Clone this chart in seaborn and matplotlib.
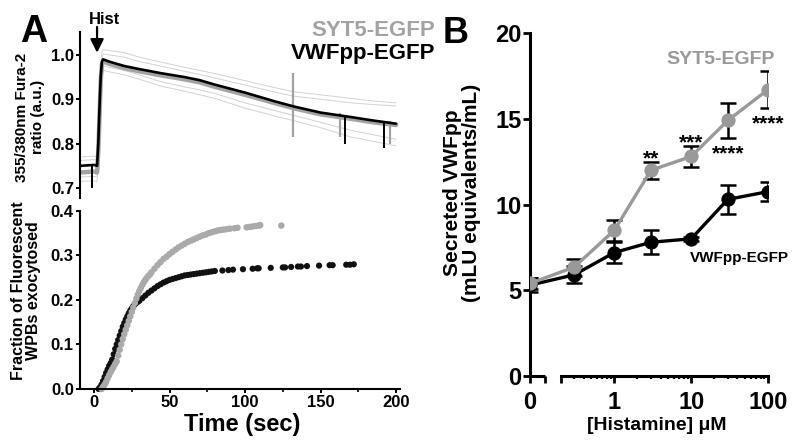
import numpy as np
import pandas as pd
import matplotlib
matplotlib.use("Agg")
import matplotlib.pyplot as plt
from matplotlib.ticker import FixedLocator, FixedFormatter, NullFormatter
import seaborn as sns

sns.set_theme(style="ticks")
plt.rcParams["font.family"] = ["Liberation Sans", "DejaVu Sans"]
plt.rcParams["font.weight"] = "bold"
plt.rcParams["axes.labelweight"] = "bold"
plt.rcParams["text.color"] = "black"
plt.rcParams["xtick.color"] = "black"
plt.rcParams["ytick.color"] = "black"
plt.rcParams["xtick.labelcolor"] = "black"
plt.rcParams["ytick.labelcolor"] = "black"

GREY_A = "#a3a3a3"
GREY_B = "#999999"
BAND = "#d2d2d2"

# ---------------- Panel A (top): Fura-2 ratio traces ----------------
trace_t = [-9, 0, 2.0, 2.8, 3.6, 4.4, 5.2, 6, 10, 20, 30, 44, 60, 70, 80, 100, 120, 132, 150, 170, 185, 200]
vwf_ratio = [0.750, 0.752, 0.750, 0.80, 0.88, 0.95, 0.985, 0.990, 0.985, 0.975, 0.968, 0.959, 0.950, 0.943,
             0.933, 0.915, 0.895, 0.884, 0.870, 0.860, 0.852, 0.845]
syt_ratio = [0.735, 0.737, 0.735, 0.78, 0.86, 0.94, 0.978, 0.985, 0.980, 0.970, 0.963, 0.954, 0.945, 0.938,
             0.928, 0.910, 0.891, 0.880, 0.866, 0.856, 0.848, 0.842]
sem_up1 = [0.770, 0.772, 0.770, 0.82, 0.90, 0.97, 1.005, 1.012, 1.010, 1.005, 0.995, 0.984, 0.972, 0.965,
           0.958, 0.942, 0.926, 0.917, 0.910, 0.902, 0.896, 0.892]
sem_up2 = [0.762, 0.764, 0.762, 0.81, 0.89, 0.96, 0.995, 1.002, 1.000, 0.995, 0.985, 0.975, 0.963, 0.956,
           0.948, 0.932, 0.916, 0.907, 0.900, 0.892, 0.888, 0.885]
sem_lo1 = [0.715, 0.716, 0.715, 0.76, 0.84, 0.91, 0.955, 0.965, 0.962, 0.955, 0.945, 0.930, 0.918, 0.910,
           0.902, 0.880, 0.862, 0.852, 0.836, 0.815, 0.805, 0.795]
sem_lo2 = [0.725, 0.726, 0.725, 0.77, 0.85, 0.92, 0.965, 0.975, 0.972, 0.965, 0.955, 0.940, 0.928, 0.921,
           0.913, 0.892, 0.874, 0.864, 0.848, 0.830, 0.820, 0.810]
vwf_spike_t = [-1.5, 166, 192]
vwf_spike_top = [0.750, 0.862, 0.848]
vwf_spike_bot = [0.700, 0.800, 0.790]
syt_spike_t = [132, 163, 196]
syt_spike_top = [0.960, 0.870, 0.850]
syt_spike_bot = [0.815, 0.815, 0.800]

# ---------------- Panel A (bottom): cumulative exocytosis ----------------
vwf_t = [3, 4, 5, 6, 7, 8, 9, 10, 11, 12, 13, 14, 15, 16, 17, 18, 19, 20, 21, 22, 23, 24, 25, 26, 27, 28, 29, 30,
         32, 34, 36, 38, 40, 42, 44, 46, 48, 50, 52, 54, 56, 58, 60, 62, 64, 66, 68, 70, 72, 74, 76, 78, 80,
         85, 89, 92, 98.6, 105, 108, 109, 117, 125, 126.5, 130.5, 135, 137, 141, 149, 156, 158, 167, 169.5, 172]
vwf_frac = [0.000, 0.004, 0.010, 0.018, 0.027, 0.036, 0.044, 0.052, 0.058, 0.066, 0.078, 0.090, 0.100, 0.110,
            0.120, 0.130, 0.140, 0.148, 0.156, 0.163, 0.170, 0.176, 0.181, 0.186, 0.190, 0.193, 0.196, 0.198,
            0.204, 0.210, 0.216, 0.221, 0.226, 0.231, 0.235, 0.239, 0.242, 0.245, 0.247, 0.249, 0.251, 0.253,
            0.255, 0.256, 0.257, 0.258, 0.259, 0.260, 0.261, 0.262, 0.263, 0.264, 0.265,
            0.266, 0.267, 0.268, 0.269, 0.270, 0.271, 0.271, 0.272, 0.273, 0.273, 0.274, 0.275, 0.275, 0.276,
            0.277, 0.278, 0.278, 0.279, 0.279, 0.280]
syt_t = [5, 6, 7, 8, 9, 10, 11, 12, 13, 14, 15, 16, 17, 18, 19, 20, 21, 22, 23, 24, 25, 26, 27, 28, 29, 30, 31,
         32, 33, 34, 35, 36, 37, 38, 40, 42, 44, 46, 48, 50, 52, 54, 56, 58, 60, 62, 64, 66, 68, 70, 72, 74, 76,
         78, 80, 82, 84, 86, 88, 90, 93, 95, 101, 103, 105, 107, 109, 110, 124]
syt_frac = [0.000, 0.005, 0.010, 0.016, 0.024, 0.031, 0.038, 0.044, 0.050, 0.056, 0.062, 0.075, 0.088, 0.100,
            0.112, 0.123, 0.133, 0.143, 0.153, 0.163, 0.173, 0.183, 0.193, 0.203, 0.212, 0.220, 0.227, 0.234,
            0.240, 0.245, 0.250, 0.254, 0.257, 0.262, 0.270, 0.278, 0.285, 0.292, 0.297, 0.303, 0.308, 0.313,
            0.318, 0.322, 0.326, 0.330, 0.333, 0.336, 0.339, 0.342, 0.345, 0.347, 0.350, 0.352, 0.354, 0.356,
            0.357, 0.358, 0.359, 0.360, 0.361, 0.362, 0.363, 0.364, 0.365, 0.366, 0.367, 0.368, 0.367]

# ---------------- Panel B: secreted VWFpp ----------------
histamine = [0, 0.3, 1, 3, 10, 30, 100]
syt_vwfpp = [5.4, 6.35, 8.5, 12.0, 12.8, 14.9, 16.7]
syt_vwfpp_sem = [0.3, 0.5, 0.6, 0.5, 0.6, 1.0, 1.1]
vwf_vwfpp = [5.3, 5.9, 7.2, 7.8, 8.0, 10.3, 10.75]
vwf_vwfpp_sem = [0.4, 0.5, 0.6, 0.7, 0.1, 0.85, 0.55]
star_x = [3, 10, 30, 100]
star_y = [12.36, 13.3, 12.65, 14.4]
star_txt = ["**", "***", "****", "****"]
x_major = [0, 0.1, 0.2, 1, 10, 100]
x_major_lbl = ["0", "", "", "1", "10", "100"]
x_minor = [0.3, 0.4, 0.5, 0.6, 0.7, 0.8, 0.9, 2, 3, 4, 5, 6, 7, 8, 9, 20, 30, 40, 50, 60, 70, 80, 90]

W, H = 800, 443
fig = plt.figure(figsize=(8.0, 4.43), dpi=100)


def fx(px):
    return px / W


def fy(py):
    return 1 - py / H


# ---- A top ----
axA1 = fig.add_axes([0.1, 0.553, 0.4, 0.375])
for arr in (sem_up1, sem_up2, sem_lo1, sem_lo2):
    sns.lineplot(x=trace_t, y=arr, ax=axA1, color=BAND, lw=0.7, estimator=None, sort=False)
sns.lineplot(x=trace_t, y=syt_ratio, ax=axA1, color=GREY_A, lw=3.2, estimator=None, sort=False)
axA1.vlines(syt_spike_t, syt_spike_bot, syt_spike_top, color=GREY_A, lw=1.6)
sns.lineplot(x=trace_t, y=vwf_ratio, ax=axA1, color="black", lw=1.9, estimator=None, sort=False)
axA1.vlines(vwf_spike_t, vwf_spike_bot, vwf_spike_top, color="black", lw=1.4)
axA1.set_xlim(-9.3, 202.6)
axA1.set_ylim(0.6774, 1.0519)
axA1.set_yticks([0.7, 0.8, 0.9, 1.0])
axA1.set_xticks([])
for s in ("top", "right", "bottom"):
    axA1.spines[s].set_visible(False)
axA1.spines["left"].set_color("black")
axA1.spines["left"].set_linewidth(1.5)
axA1.tick_params(axis="y", length=3, width=1.4, pad=1, labelsize=12, colors="black")
axA1.set_xlabel("")
axA1.set_ylabel("")
axA1.annotate("", xy=(2, 1.005), xytext=(2, 1.063), xycoords="data",
              arrowprops=dict(arrowstyle="-|>", color="black", lw=1.6, mutation_scale=20,
                              shrinkA=0, shrinkB=0), annotation_clip=False)

# ---- A bottom ----
axA2 = fig.add_axes([0.1, 0.122, 0.4, 0.402])
sns.scatterplot(x=vwf_t, y=vwf_frac, ax=axA2, color="#111111", s=20, edgecolor="none", clip_on=False)
sns.scatterplot(x=syt_t, y=syt_frac, ax=axA2, color="#aaaaaa", s=22, edgecolor="none", clip_on=False)
axA2.set_xlim(-9.3, 202.6)
axA2.set_ylim(0, 0.4)
axA2.set_xticks([0, 50, 100, 150, 200])
axA2.set_xticks([25, 75, 125, 175], minor=True)
axA2.set_yticks([0.0, 0.1, 0.2, 0.3, 0.4])
for s in ("top", "right"):
    axA2.spines[s].set_visible(False)
for s in ("left", "bottom"):
    axA2.spines[s].set_color("black")
    axA2.spines[s].set_linewidth(1.5)
axA2.tick_params(axis="both", which="major", length=3, width=1.4, pad=1.5, labelsize=12, colors="black")
axA2.tick_params(axis="x", which="minor", length=2.5, width=1.2, colors="black")
axA2.set_xlabel("")
axA2.set_ylabel("")

# ---- B ----
axB = fig.add_axes([0.6625, 0.1512, 0.2975, 0.7743])
axB.set_xscale("symlog", linthresh=0.2, linscale=0.359, base=10)
axB.errorbar(histamine, vwf_vwfpp, yerr=vwf_vwfpp_sem, fmt="none", ecolor="black",
             elinewidth=1.8, capsize=5.5, capthick=1.8, zorder=1)
axB.errorbar(histamine, syt_vwfpp, yerr=syt_vwfpp_sem, fmt="none", ecolor="black",
             elinewidth=1.8, capsize=5.5, capthick=1.8, zorder=1)
sns.lineplot(x=histamine, y=vwf_vwfpp, ax=axB, color="black", lw=2.4, marker="o", markersize=9.5,
             markeredgecolor="black", estimator=None, sort=False, zorder=2)
sns.lineplot(x=histamine, y=syt_vwfpp, ax=axB, color=GREY_B, lw=2.4, marker="o", markersize=9.5,
             markeredgecolor=GREY_B, estimator=None, sort=False, zorder=3)
axB.set_xlim(0, 100)
axB.set_ylim(0, 20)
axB.set_yticks([0, 5, 10, 15, 20])
axB.xaxis.set_major_locator(FixedLocator(x_major))
axB.xaxis.set_major_formatter(FixedFormatter(x_major_lbl))
axB.xaxis.set_minor_locator(FixedLocator(x_minor))
axB.xaxis.set_minor_formatter(NullFormatter())
for s in ("top", "right"):
    axB.spines[s].set_visible(False)
for s in ("left", "bottom"):
    axB.spines[s].set_color("black")
    axB.spines[s].set_linewidth(2.2)
axB.spines["bottom"].set_bounds(0.2, 100)
axB.plot([0, 0.1], [0, 0], color="black", lw=2.2, clip_on=False, solid_capstyle="butt")
axB.tick_params(axis="both", which="major", length=5, width=2.0, labelsize=17, colors="black")
axB.tick_params(axis="y", which="major", pad=1)
axB.tick_params(axis="x", which="major", pad=6)
axB.tick_params(axis="x", which="minor", length=2.5, width=1.6, colors="black")
axB.set_xlabel("")
axB.set_ylabel("")
for xs, ys, t in zip(star_x, star_y, star_txt):
    axB.text(xs, ys, t, ha="center", va="baseline", fontsize=15, color="black")

# ---- texts ----
fig.text(fx(20), fy(42), "A", fontsize=27, ha="left", va="baseline")
fig.text(fx(443), fy(43), "B", fontsize=26, ha="left", va="baseline")
fig.text(fx(105), fy(19), "Hist", fontsize=12, ha="center", va="center")
fig.text(fx(435), fy(36), "SYT5-EGFP", fontsize=16, ha="right", va="baseline", color=GREY_A)
fig.text(fx(435), fy(59), "VWFpp-EGFP", fontsize=16, ha="right", va="baseline", color="black")
fig.text(fx(30), fy(117), "355/380nm Fura-2\nratio (a.u.)", rotation=90, fontsize=11,
         ha="center", va="center", linespacing=1.1, multialignment="center")
fig.text(fx(26), fy(291), "Fraction of Fluorescent\nWPBs exocytosed", rotation=90, fontsize=11.5,
         ha="center", va="center", linespacing=1.05, multialignment="center")
fig.text(fx(242), fy(425), "Time (sec)", fontsize=17, ha="center", va="center")
fig.text(fx(462), fy(193), "Secreted VWFpp\n(mLU equivalents/mL)", rotation=90, fontsize=15,
         ha="center", va="center", linespacing=1.0, multialignment="center")
fig.text(fx(657), fy(425), "[Histamine] μM", fontsize=14, ha="center", va="center")
fig.text(fx(721), fy(60), "SYT5-EGFP", fontsize=14, ha="center", va="center", color=GREY_B)
fig.text(fx(739), fy(258), "VWFpp-EGFP", fontsize=11, ha="center", va="center", color="black")

fig.savefig("out.png", dpi=100)
